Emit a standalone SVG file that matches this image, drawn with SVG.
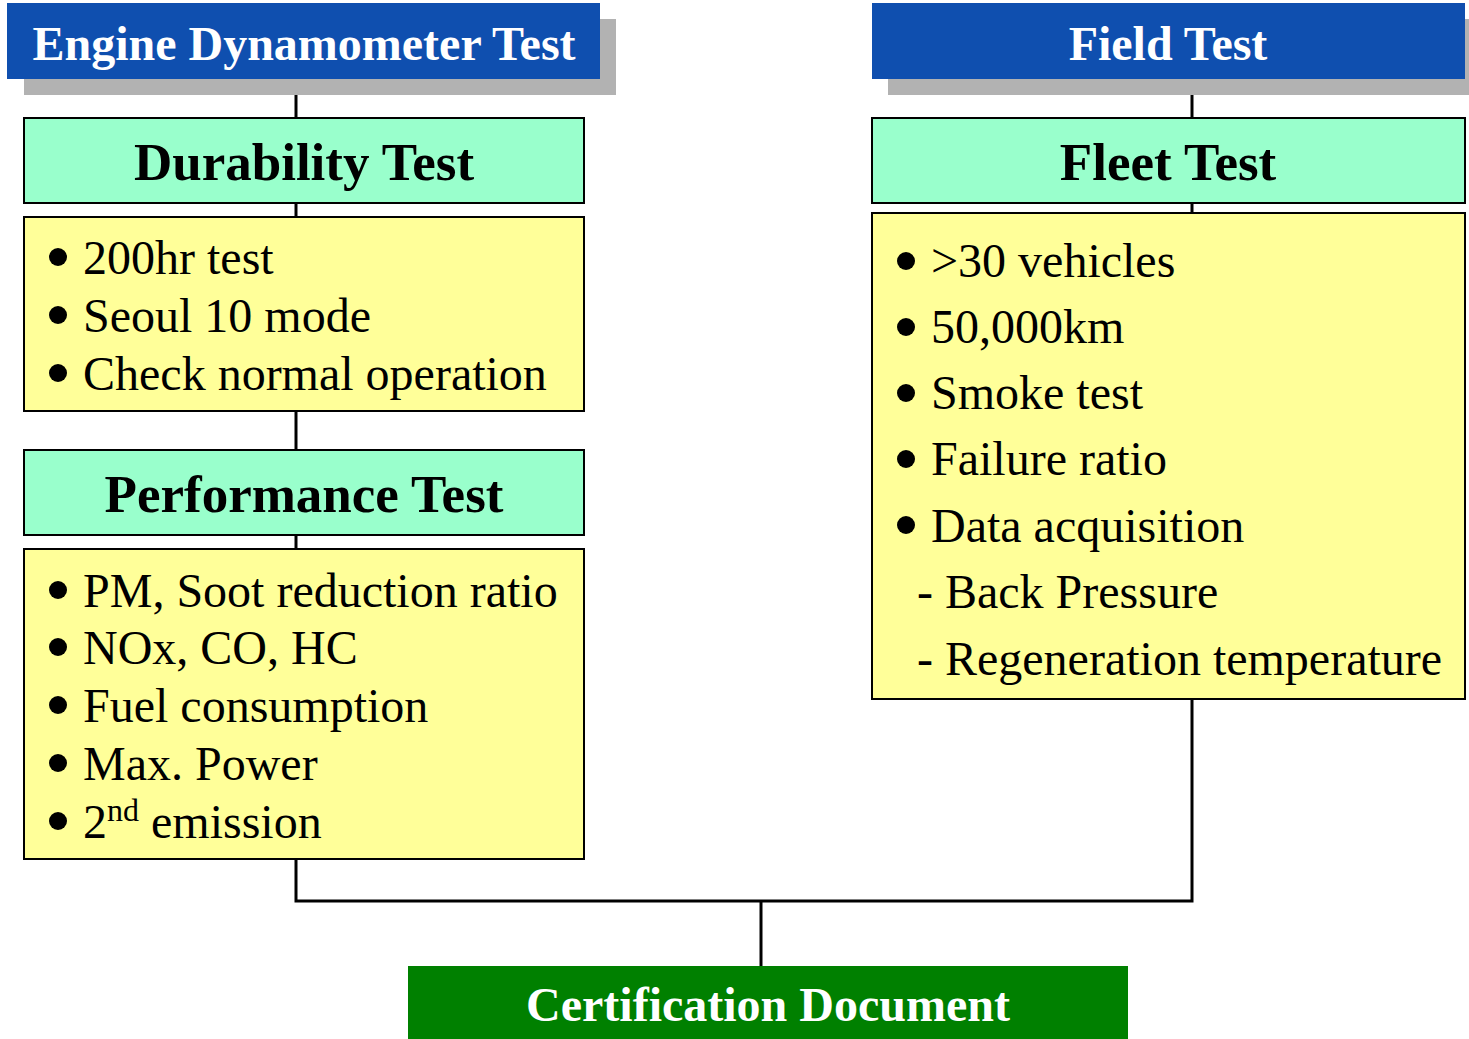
<svg xmlns="http://www.w3.org/2000/svg" width="1469" height="1039" viewBox="0 0 1469 1039">
<style>
.shadow{fill:#b2b2b2}
.head{fill:#0f4faf}
.title{fill:#99ffcc;stroke:#000;stroke-width:2}
.list{fill:#ffff99;stroke:#000;stroke-width:2}
.cert{fill:#008000}
.ht{font-family:"Liberation Serif","Times New Roman",serif;font-weight:bold;font-size:48px;fill:#fff;text-anchor:middle}
.tt{font-family:"Liberation Serif","Times New Roman",serif;font-weight:bold;font-size:53px;fill:#000;text-anchor:middle}
.bt{font-family:"Liberation Serif","Times New Roman",serif;font-size:48px;fill:#000}
.dot{fill:#000}
.conn{stroke:#000;stroke-width:3;fill:none}
</style>
<rect width="1469" height="1039" fill="#fff"/>
<g id="connectors">
<line class="conn" x1="296" y1="95" x2="296" y2="118"/>
<line class="conn" x1="296" y1="203" x2="296" y2="217"/>
<line class="conn" x1="296" y1="411" x2="296" y2="450"/>
<line class="conn" x1="296" y1="535" x2="296" y2="549"/>
<line class="conn" x1="1192" y1="95" x2="1192" y2="118"/>
<line class="conn" x1="1192" y1="203" x2="1192" y2="213"/>
<polyline class="conn" points="296,859 296,901 1192,901 1192,699" stroke-width="3.5"/>
<line class="conn" x1="761" y1="901" x2="761" y2="966"/>
</g>
<g id="engine-dynamometer-test">
<rect class="shadow" x="24" y="19" width="592" height="76"/>
<rect class="head" x="7" y="3" width="593" height="76"/>
<text class="ht" x="304" y="60">Engine Dynamometer Test</text>
</g>
<g id="field-test">
<rect class="shadow" x="888" y="19" width="581" height="76"/>
<rect class="head" x="872" y="3" width="593" height="76"/>
<text class="ht" x="1168" y="60">Field Test</text>
</g>
<g id="durability-test">
<rect class="title" x="24" y="118" width="560" height="85"/>
<text class="tt" x="304" y="180">Durability Test</text>
</g>
<g id="durability-items">
<rect class="list" x="24" y="217" width="560" height="194"/>
<circle class="dot" cx="58" cy="257" r="9"/>
<circle class="dot" cx="58" cy="315" r="9"/>
<circle class="dot" cx="58" cy="373" r="9"/>
<text class="bt" x="83" y="274">200hr test</text>
<text class="bt" x="83" y="332">Seoul 10 mode</text>
<text class="bt" x="83" y="390">Check normal operation</text>
</g>
<g id="performance-test">
<rect class="title" x="24" y="450" width="560" height="85"/>
<text class="tt" x="304" y="512">Performance Test</text>
</g>
<g id="performance-items">
<rect class="list" x="24" y="549" width="560" height="310"/>
<circle class="dot" cx="58" cy="590" r="9"/>
<circle class="dot" cx="58" cy="647" r="9"/>
<circle class="dot" cx="58" cy="705" r="9"/>
<circle class="dot" cx="58" cy="763" r="9"/>
<circle class="dot" cx="58" cy="821" r="9"/>
<text class="bt" x="83" y="607">PM, Soot reduction ratio</text>
<text class="bt" x="83" y="664">NOx, CO, HC</text>
<text class="bt" x="83" y="722">Fuel consumption</text>
<text class="bt" x="83" y="780">Max. Power</text>
<text class="bt" x="83" y="838">2<tspan font-size="32" dy="-17">nd</tspan><tspan dy="17"> emission</tspan></text>
</g>
<g id="fleet-test">
<rect class="title" x="872" y="118" width="593" height="85"/>
<text class="tt" x="1168" y="180">Fleet Test</text>
</g>
<g id="fleet-items">
<rect class="list" x="872" y="213" width="593" height="486"/>
<circle class="dot" cx="906" cy="261" r="9"/>
<circle class="dot" cx="906" cy="327" r="9"/>
<circle class="dot" cx="906" cy="393" r="9"/>
<circle class="dot" cx="906" cy="459" r="9"/>
<circle class="dot" cx="906" cy="525" r="9"/>
<text class="bt" x="931" y="277">&gt;30 vehicles</text>
<text class="bt" x="931" y="343">50,000km</text>
<text class="bt" x="931" y="409">Smoke test</text>
<text class="bt" x="931" y="475">Failure ratio</text>
<text class="bt" x="931" y="542">Data acquisition</text>
<text class="bt" x="917" y="608">- Back Pressure</text>
<text class="bt" x="917" y="675">- Regeneration temperature</text>
</g>
<g id="certification-document">
<rect class="cert" x="408" y="966" width="720" height="73"/>
<text class="ht" x="768" y="1021">Certification Document</text>
</g>
</svg>
